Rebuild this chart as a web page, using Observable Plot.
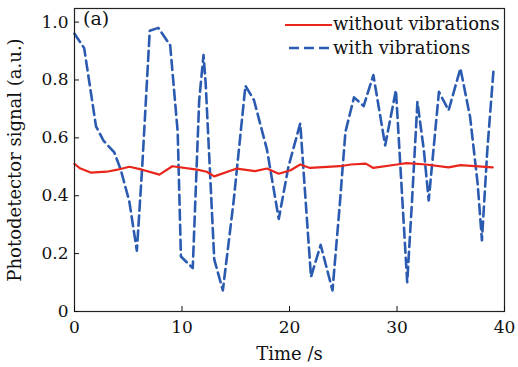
<!DOCTYPE html>
<html><head><meta charset="utf-8">
<script src="https://cdn.jsdelivr.net/npm/d3@7"></script>
<script src="https://cdn.jsdelivr.net/npm/@observablehq/plot@0.6"></script>
<style>
body{margin:0;background:#fff;}
#wrap{position:relative;width:518px;height:367px;font-family:"DejaVu Serif",serif;}
.leg{position:absolute;left:280px;top:10px;width:220px;height:56px;background:#fff;font-size:18px;color:#111;line-height:21px;}
.leg svg{position:absolute;}
.leg span{position:absolute;left:53px;white-space:nowrap;}
.lab{position:absolute;left:83px;top:6px;font-size:19px;color:#111;line-height:24px;}
</style></head>
<body><div id="wrap"></div>
<script>
const tBlue = [0,0.9,2.0,2.7,3.7,4.3,5.1,5.8,6.3,7.0,7.8,8.9,9.6,9.9,11.0,11.6,12.0,12.2,13.0,13.8,14.8,15.9,16.7,17.9,19.0,19.9,21.0,21.6,22.0,22.9,24.0,24.7,25.2,26.0,26.9,27.8,28.9,29.9,30.5,30.95,31.4,31.9,32.5,32.95,33.9,34.8,35.9,36.8,37.5,37.9,38.4,39.0];
const vBlue = [0.96,0.91,0.64,0.59,0.55,0.49,0.38,0.21,0.50,0.97,0.98,0.92,0.62,0.19,0.15,0.73,0.886,0.79,0.18,0.073,0.38,0.78,0.73,0.56,0.32,0.50,0.65,0.33,0.12,0.23,0.073,0.38,0.62,0.74,0.71,0.817,0.574,0.765,0.384,0.101,0.384,0.724,0.557,0.384,0.759,0.695,0.84,0.672,0.443,0.246,0.557,0.845];
const tRed = [0,0.5,1.5,3,4,5.1,6.3,7.9,9.1,11.4,12.3,13,15.1,16.8,17.9,19,20.1,21,21.9,24.7,25.7,27.1,27.8,30,30.9,32.7,34.8,35.9,38.9];
const vRed = [0.51,0.495,0.48,0.483,0.49,0.5,0.49,0.473,0.502,0.49,0.483,0.467,0.494,0.485,0.494,0.476,0.488,0.508,0.496,0.502,0.508,0.511,0.496,0.508,0.513,0.508,0.498,0.506,0.498];
const xTicks = [0,10,20,30,40];
const yTicks = [0,0.2,0.4,0.6,0.8,1.0];
const seriesNames = ["without vibrations","with vibrations"];
const xLabel = "Time /s";
const yLabel = "Photodetector signal (a.u.)";
const panelLabel = "(a)";

const blue = tBlue.map((t,i)=>({t, v:vBlue[i]}));
const red = tRed.map((t,i)=>({t, v:vRed[i]}));
const RED = "#e8261c", BLUE = "#2b5bb0";

const chart = Plot.plot({
  width:518, height:367,
  marginLeft:74, marginRight:14, marginTop:8, marginBottom:56,
  style:{fontFamily:"DejaVu Serif, serif", fontSize:"17px", color:"#111", background:"transparent"},
  x:{domain:[0,40]},
  y:{domain:[0,1.047]},
  marks:[
    Plot.lineY(blue,{x:"t",y:"v",stroke:BLUE,strokeWidth:2.6,strokeDasharray:"10,5"}),
    Plot.lineY(red,{x:"t",y:"v",stroke:RED,strokeWidth:2.2}),
    Plot.frame({stroke:"#222",strokeWidth:1.2}),
    Plot.axisX({ticks:xTicks,tickSize:-5,tickPadding:14,tickFormat:d=>String(d),label:null}),
    Plot.axisX({ticks:[],label:xLabel,labelAnchor:"center",labelArrow:"none",labelOffset:48,fontSize:18}),
    Plot.axisY({ticks:yTicks,tickSize:-5,tickPadding:11,tickFormat:d=>d===0?"0":d.toFixed(1),label:null}),
    Plot.axisY({ticks:[],label:yLabel,labelAnchor:"center",labelArrow:"none",labelOffset:66,fontSize:18})
  ]
});
const wrap = document.getElementById("wrap");
wrap.appendChild(chart);
const lab = document.createElement("div"); lab.className="lab"; lab.textContent=panelLabel; wrap.appendChild(lab);
const leg = document.createElement("div"); leg.className="leg";
leg.innerHTML = `
<svg width="47" height="20" style="left:5px;top:5px"><line x1="0" x2="47" y1="10" y2="10" stroke="${RED}" stroke-width="2.2"/></svg>
<span style="top:3px">${seriesNames[0]}</span>
<svg width="43" height="20" style="left:9px;top:28px"><line x1="0" x2="43" y1="10" y2="10" stroke="${BLUE}" stroke-width="2.6" stroke-dasharray="10,5"/></svg>
<span style="top:27px">${seriesNames[1]}</span>`;
wrap.appendChild(leg);
</script></body></html>
